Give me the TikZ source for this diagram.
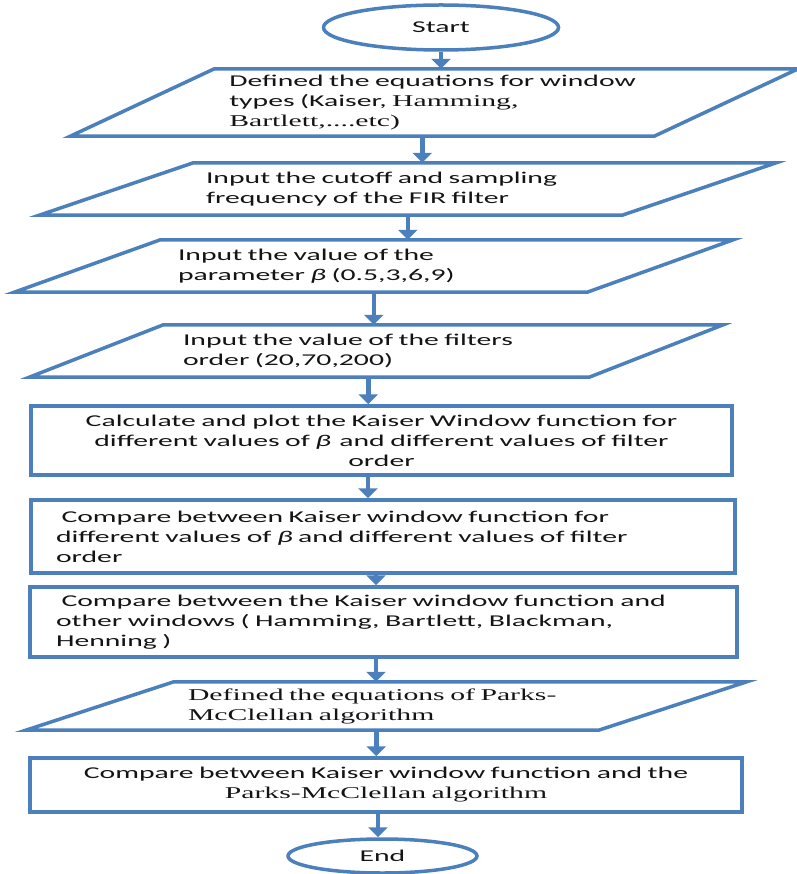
\documentclass[tikz,border=0pt]{standalone}
\usepackage{fontspec}
\setmainfont{Carlito}[FakeStretch=1.8]
\newfontfamily\timesfont{Liberation Serif}[FakeStretch=1.8]
\usepackage{tikz}
\usetikzlibrary{shapes.geometric,arrows.meta}
\definecolor{flowblue}{RGB}{76,128,189}
\definecolor{flowtext}{RGB}{20,20,20}

\begin{document}
\begin{tikzpicture}[
    x=1pt, y=-1pt,
    every node/.style={font=\fontsize{16.5}{20}\selectfont, text=flowtext, inner ysep=2pt},
    terminal/.style={ellipse, draw=flowblue, line width=3.5pt},
    process/.style={rectangle, draw=flowblue, line width=3.5pt, inner xsep=20pt},
    io/.style={rectangle, inner xsep=0pt, align=left},
    outline/.style={draw=flowblue, line width=3.5pt, line join=miter},
    flow/.style={draw=flowblue, line width=4.5pt, -{Triangle[width=19pt, length=10pt]}}
]
    \useasboundingbox (0,0) rectangle (796,874);

    \node[terminal, minimum width=235, minimum height=45] (start) at (441,27.5) {Start};
    \node[io, minimum width=583.5, minimum height=67, text width=410] (p1) at (434.25,102.5)
        {Defined the equations for window\\ types (Kaiser, {\timesfont Hamming,}\\ {\timesfont Bartlett,....etc)}};
    \node[io, minimum width=582.5, minimum height=52, text width=403.5] (p2) at (407.75,189)
        {Input the cutoff and sampling\\ frequency of the FIR filter};
    \node[io, minimum width=572.5, minimum height=52, text width=391.5] (p3) at (373.75,266)
        {Input the value of the\\ parameter \textit{β} (0.5,3,6,9)};
    \node[io, minimum width=559.5, minimum height=52, text width=386.5] (p4) at (376.25,351)
        {Input the value of the filters\\ order (20,70,200)};
    \node[process, minimum width=701, minimum height=69, text width=651, align=center] (r5) at (381.5,440.5)
        {Calculate and plot the Kaiser Window function for\\ different values of \textit{β}\enspace and different values of filter\\ order};
    \node[process, minimum width=704, minimum height=73, text width=654, align=left] (r6) at (383,536.5)
        {~Compare between Kaiser window function for\\ different values of \textit{β} and different values of filter\\ order};
    \node[process, minimum width=707, minimum height=70, text width=655, align=left] (r7) at (383.5,622)
        {~Compare between the Kaiser window function and\\ other windows ( Hamming, Bartlett, Blackman,\\ Henning )};
    \node[io, minimum width=572.5, minimum height=48, text width=396.5,
          font=\timesfont\fontsize{16.5}{20}\selectfont] (p5) at (386.25,706)
        {Defined the equations of Parks-\\ McClellan algorithm};
    \node[process, minimum width=712, minimum height=54, text width=662, align=center] (r8) at (386,785)
        {Compare between Kaiser window function and the\\ {\timesfont Parks-McClellan algorithm}};
    \node[terminal, minimum width=189, minimum height=34] (end) at (382.5,856) {End};

    \foreach \n/\s in {p1/72, p2/77, p3/73, p4/67, p5/74}
        \draw[outline] ([xshift=\s]\n.north west) -- ([xshift=\s]\n.north east)
            -- ([xshift=-\s]\n.south east) -- ([xshift=-\s]\n.south west) -- cycle;

    \draw[flow] (start.south) -- (start.south |- p1.north);
    \draw[flow] ([xshift=-12]p1.south) -- ([xshift=-12]p1.south |- p2.north);
    \draw[flow] (p2.south) -- (p2.south |- p3.north);
    \draw[flow] (p3.south) -- (p3.south |- p4.north);
    \draw[flow] ([xshift=-8]p4.south) -- ([xshift=-8]p4.south |- r5.north);
    \draw[flow] ([xshift=-13.5]r5.south) -- ([xshift=-13.5]r5.south |- r6.north);
    \draw[flow] ([xshift=-7]r6.south) -- ([xshift=-7]r6.south |- r7.north);
    \draw[flow] ([xshift=-7.5]r7.south) -- ([xshift=-7.5]r7.south |- p5.north);
    \draw[flow] ([xshift=-10]p5.south) -- ([xshift=-10]p5.south |- r8.north);
    \draw[flow] ([xshift=-8]r8.south) -- ([xshift=-8]r8.south |- end.north);
\end{tikzpicture}
\end{document}
